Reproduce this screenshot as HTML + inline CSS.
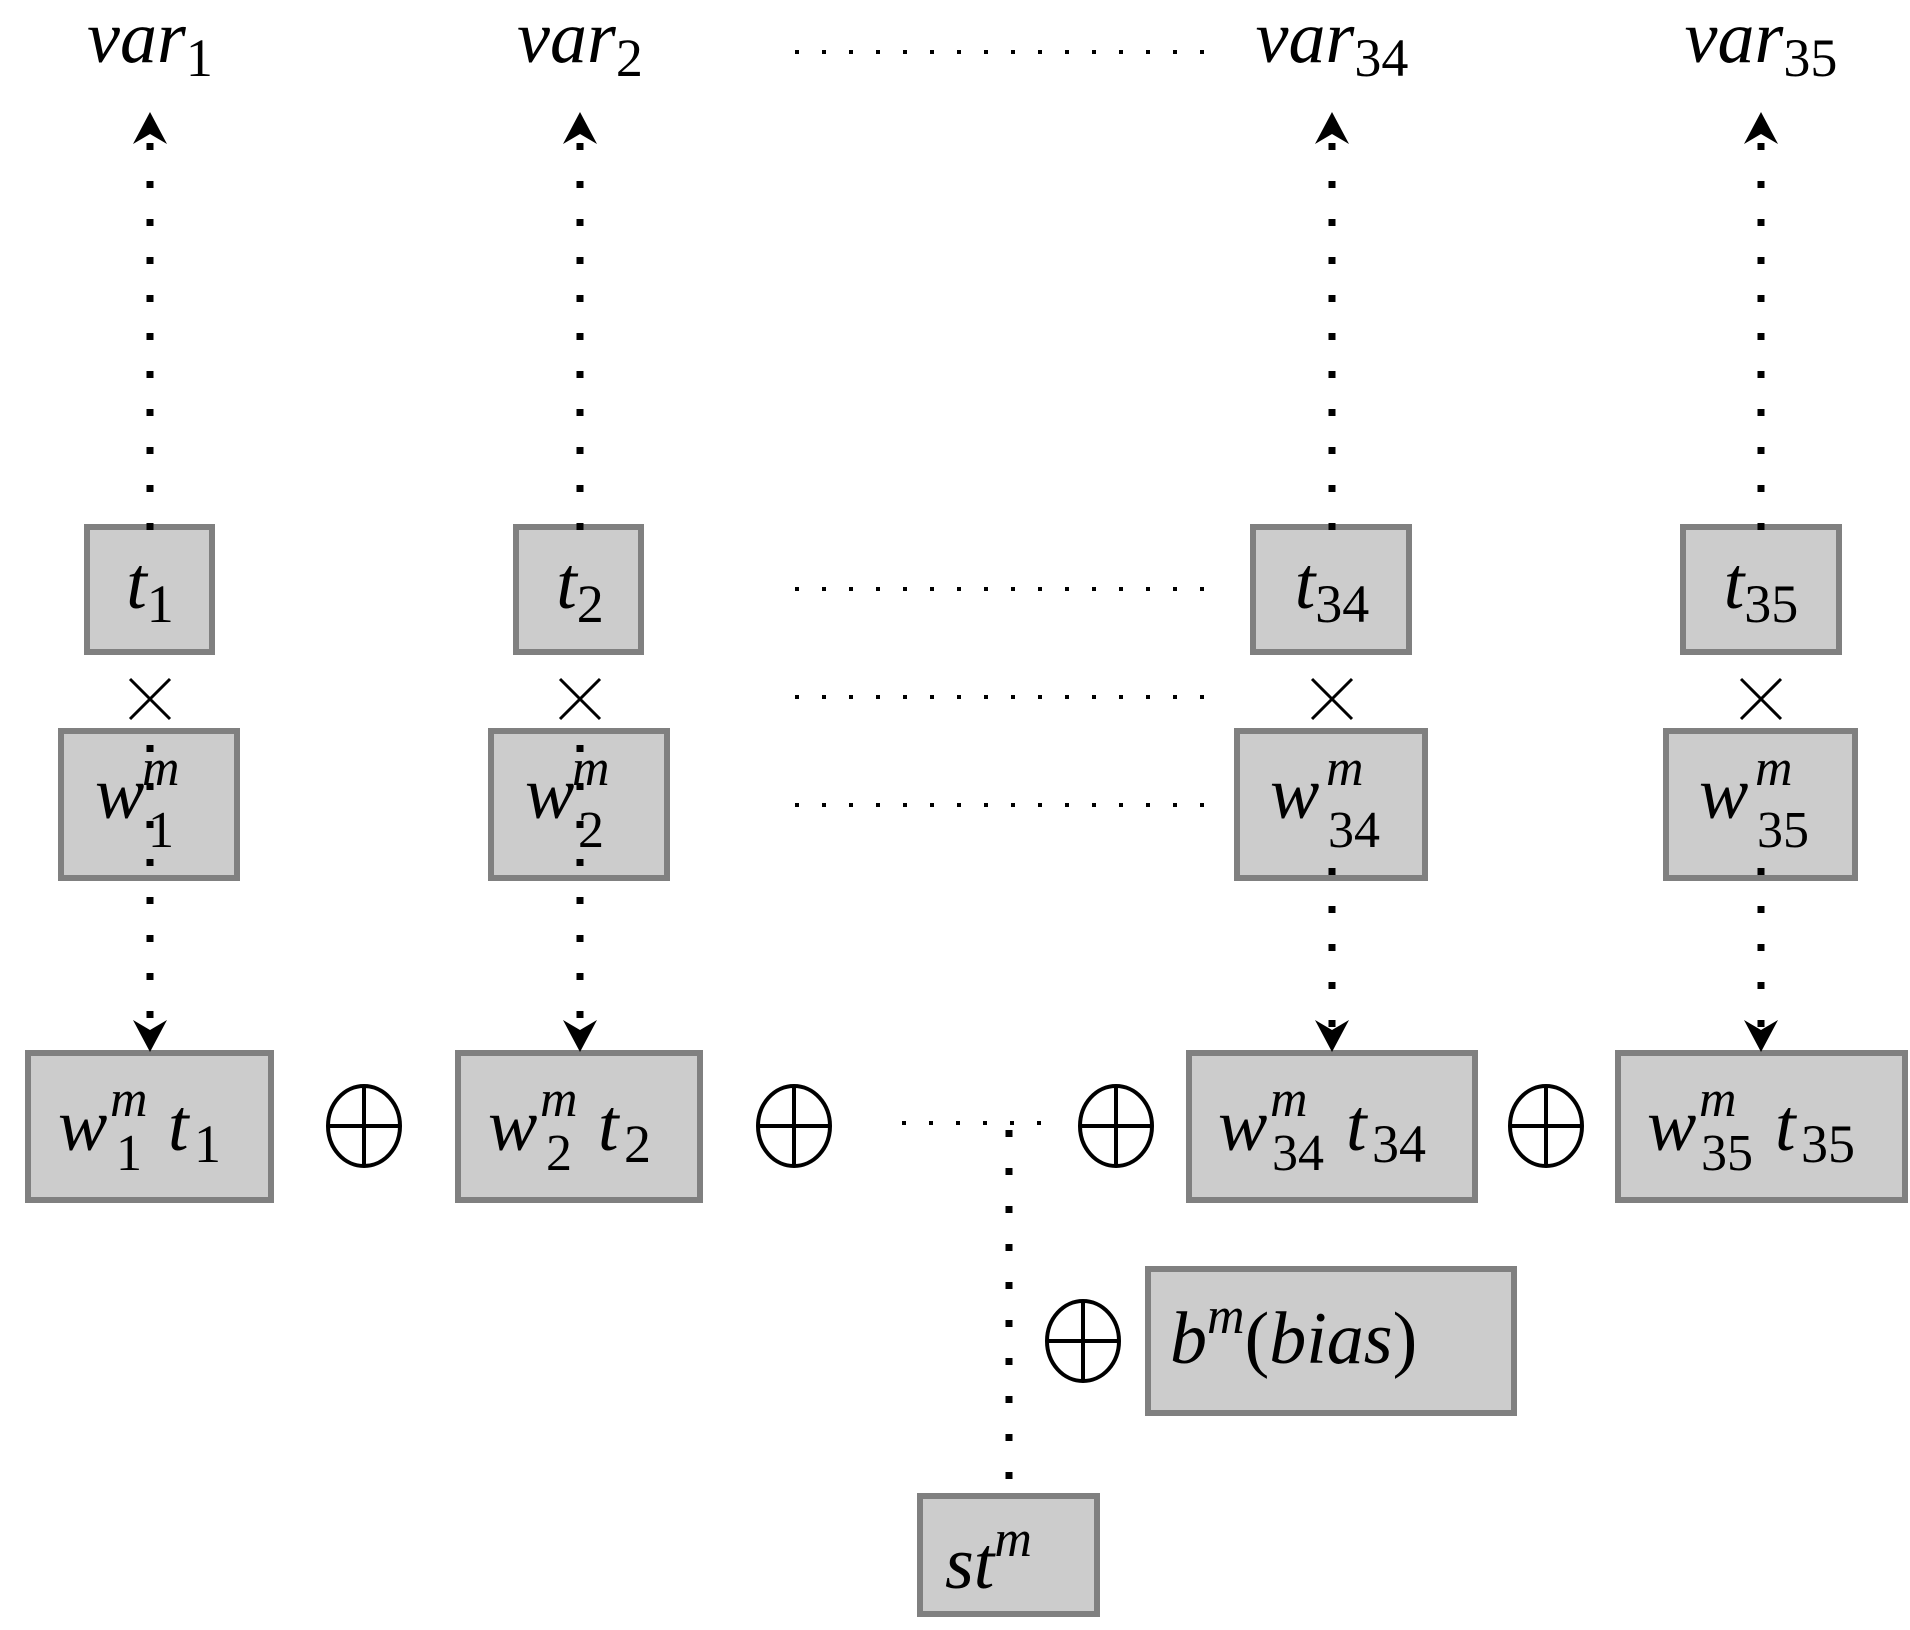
<!DOCTYPE html>
<html><head><meta charset="utf-8"><style>
html,body{margin:0;padding:0;background:#fff;}
svg{display:block}
text{font-family:"Liberation Serif",serif;fill:#000}
.i{font-style:italic}
</style></head><body>
<svg width="1910" height="1630" viewBox="0 0 1910 1630" xmlns="http://www.w3.org/2000/svg">
<defs>
<path id="au" d="M0,0 L-17,32 L0,22 L17,32 Z" fill="#000"/>
<g id="op"><ellipse cx="0" cy="0" rx="36" ry="40"/><line x1="-36" y1="0" x2="36" y2="0"/><line x1="0" y1="-40" x2="0" y2="40"/></g>
<g id="x"><line x1="-20" y1="-20" x2="20" y2="20"/><line x1="-20" y1="20" x2="20" y2="-20"/></g>
</defs>
<g fill="#ccc" stroke="#808080" stroke-width="6">
<rect x="87" y="527" width="125" height="125"/>
<rect x="516" y="527" width="125" height="125"/>
<rect x="1253" y="527" width="156" height="125"/>
<rect x="1683" y="527" width="156" height="125"/>
<rect x="61" y="731" width="176" height="147"/>
<rect x="491" y="731" width="176" height="147"/>
<rect x="1237" y="731" width="188" height="147"/>
<rect x="1666" y="731" width="189" height="147"/>
<rect x="28" y="1053" width="243" height="147"/>
<rect x="458" y="1053" width="242" height="147"/>
<rect x="1189" y="1053" width="286" height="147"/>
<rect x="1618" y="1053" width="287" height="147"/>
<rect x="1148" y="1269" width="366" height="144"/>
<rect x="920" y="1496" width="177" height="118"/>
</g>
<g stroke="#000" stroke-width="7" stroke-dasharray="7 31" fill="none">
<line x1="150" y1="143" x2="150" y2="530"/>
<line x1="580" y1="143" x2="580" y2="530"/>
<line x1="1332" y1="143" x2="1332" y2="530"/>
<line x1="1761" y1="143" x2="1761" y2="530"/>
<line x1="150" y1="745" x2="150" y2="1030"/>
<line x1="580" y1="745" x2="580" y2="1030"/>
<line x1="1332" y1="868" x2="1332" y2="1030"/>
<line x1="1761" y1="868" x2="1761" y2="1030"/>
<line x1="1009" y1="1130" x2="1009" y2="1500"/>
</g>
<g stroke="#000" stroke-width="4" stroke-dasharray="4 23" fill="none">
<line x1="795" y1="52" x2="1210" y2="52"/>
<line x1="795" y1="589" x2="1210" y2="589"/>
<line x1="795" y1="697" x2="1210" y2="697"/>
<line x1="795" y1="805" x2="1210" y2="805"/>
<line x1="902" y1="1123" x2="1060" y2="1123"/>
</g>
<use href="#au" x="150" y="112"/><use href="#au" x="580" y="112"/>
<use href="#au" x="1332" y="112"/><use href="#au" x="1761" y="112"/>
<use href="#au" transform="translate(150,1052) rotate(180)"/>
<use href="#au" transform="translate(580,1052) rotate(180)"/>
<use href="#au" transform="translate(1332,1052) rotate(180)"/>
<use href="#au" transform="translate(1761,1052) rotate(180)"/>
<g font-size="74">
<text x="150" y="62" text-anchor="middle"><tspan class="i">var</tspan><tspan font-size="54" dy="14">1</tspan></text>
<text x="580" y="62" text-anchor="middle"><tspan class="i">var</tspan><tspan font-size="54" dy="14">2</tspan></text>
<text x="1332" y="62" text-anchor="middle"><tspan class="i">var</tspan><tspan font-size="54" dy="14">34</tspan></text>
<text x="1761" y="62" text-anchor="middle"><tspan class="i">var</tspan><tspan font-size="54" dy="14">35</tspan></text>
<text x="150" y="608" text-anchor="middle"><tspan class="i">t</tspan><tspan font-size="54" dy="14">1</tspan></text>
<text x="580" y="608" text-anchor="middle"><tspan class="i">t</tspan><tspan font-size="54" dy="14">2</tspan></text>
<text x="1332" y="608" text-anchor="middle"><tspan class="i">t</tspan><tspan font-size="54" dy="14">34</tspan></text>
<text x="1761" y="608" text-anchor="middle"><tspan class="i">t</tspan><tspan font-size="54" dy="14">35</tspan></text>
</g>
<g stroke="#000" stroke-width="3">
<use href="#x" x="150" y="699"/><use href="#x" x="580" y="699"/>
<use href="#x" x="1332" y="699"/><use href="#x" x="1761" y="699"/>
</g>
<g font-size="74">
<text x="95" y="818" class="i">w</text><text x="142" y="785" font-size="52" class="i">m</text><text x="148" y="847" font-size="52">1</text>
<text x="525" y="818" class="i">w</text><text x="572" y="785" font-size="52" class="i">m</text><text x="578" y="847" font-size="52">2</text>
<text x="1270" y="818" class="i">w</text><text x="1326" y="785" font-size="52" class="i">m</text><text x="1328" y="847" font-size="52">34</text>
<text x="1699" y="818" class="i">w</text><text x="1755" y="785" font-size="52" class="i">m</text><text x="1757" y="847" font-size="52">35</text>

<text x="58" y="1150" class="i">w</text><text x="110" y="1116" font-size="52" class="i">m</text><text x="116" y="1170" font-size="52">1</text><text x="168" y="1150" class="i">t</text><text x="194" y="1162" font-size="54">1</text>
<text x="488" y="1150" class="i">w</text><text x="540" y="1116" font-size="52" class="i">m</text><text x="546" y="1170" font-size="52">2</text><text x="598" y="1150" class="i">t</text><text x="624" y="1162" font-size="54">2</text>
<text x="1218" y="1150" class="i">w</text><text x="1270" y="1116" font-size="52" class="i">m</text><text x="1272" y="1170" font-size="52">34</text><text x="1346" y="1150" class="i">t</text><text x="1372" y="1162" font-size="54">34</text>
<text x="1647" y="1150" class="i">w</text><text x="1699" y="1116" font-size="52" class="i">m</text><text x="1701" y="1170" font-size="52">35</text><text x="1775" y="1150" class="i">t</text><text x="1801" y="1162" font-size="54">35</text>

<text x="1170" y="1363"><tspan class="i">b</tspan><tspan class="i" font-size="52" dy="-30">m</tspan><tspan dy="30">(</tspan><tspan class="i">bias</tspan><tspan>)</tspan></text>
<text x="945" y="1588"><tspan class="i">st</tspan><tspan class="i" font-size="52" dy="-32">m</tspan></text>
</g>
<g stroke="#000" stroke-width="4" fill="none">
<use href="#op" x="364" y="1126"/><use href="#op" x="794" y="1126"/>
<use href="#op" x="1116" y="1126"/><use href="#op" x="1546" y="1126"/>
<use href="#op" x="1083" y="1341"/>
</g>
</svg>
</body></html>
